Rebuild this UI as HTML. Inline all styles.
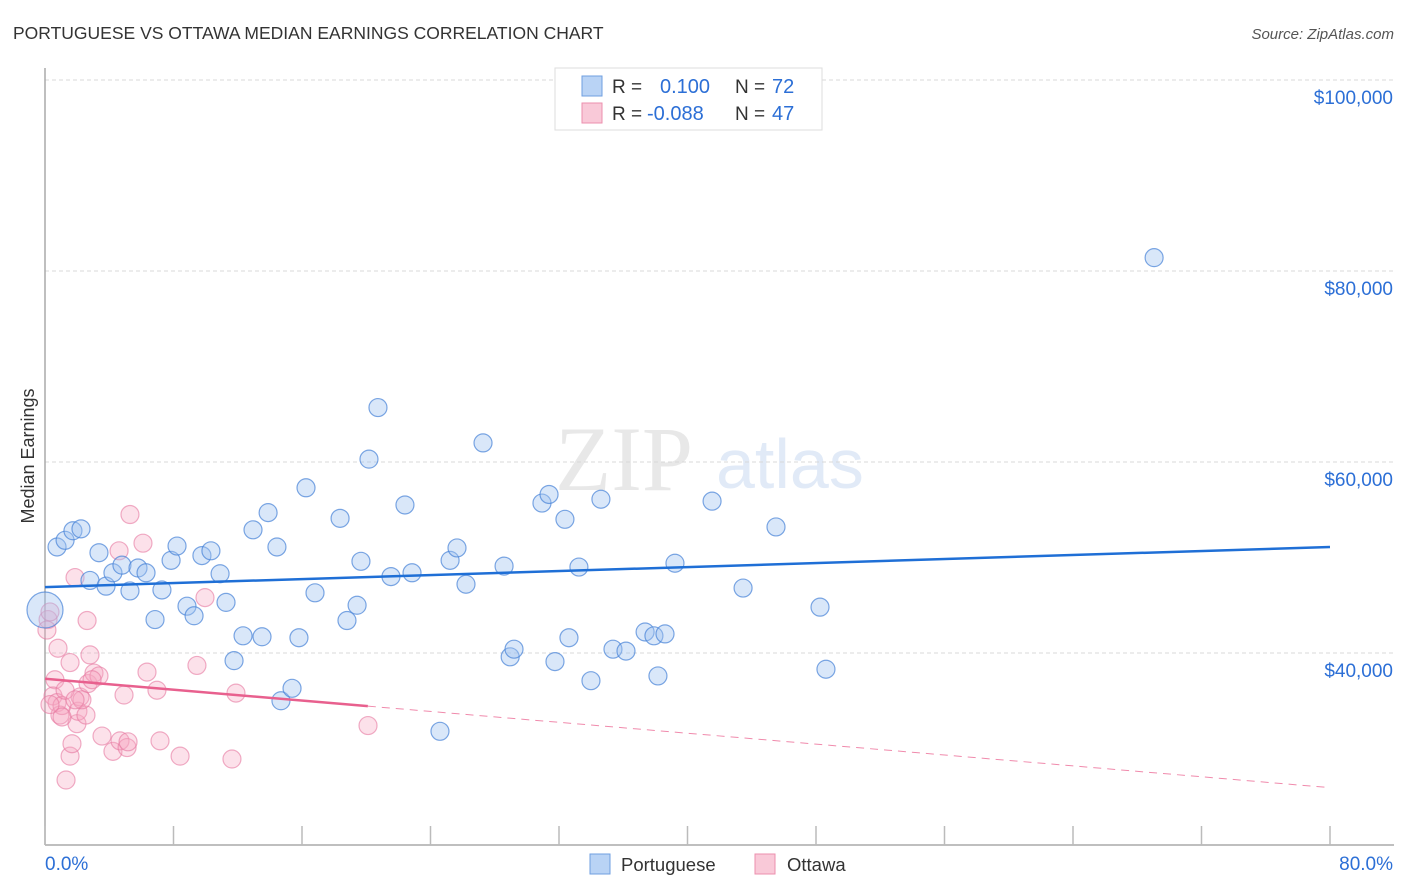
<!DOCTYPE html>
<html><head><meta charset="utf-8">
<style>
body{margin:0;background:#fff;font-family:"Liberation Sans",sans-serif;}
#wrap{position:relative;width:1406px;height:892px;overflow:hidden;}
</style></head>
<body>
<div id="wrap">
<svg id="chart" width="1406" height="892" xmlns="http://www.w3.org/2000/svg">
<text x="13" y="39" font-size="17.5" fill="#333">PORTUGUESE VS OTTAWA MEDIAN EARNINGS CORRELATION CHART</text>
<text x="1394" y="39" font-size="15" fill="#555" font-style="italic" text-anchor="end">Source: ZipAtlas.com</text>
<g opacity="0.22">
<text x="555" y="490" font-size="92" font-family="Liberation Serif,serif" fill="#999">ZIP</text>
<text x="716" y="488" font-size="70" fill="#7ba3dd">atlas</text>
</g>
<g id="grid"></g>
<g id="axes"></g>
<g id="pts"></g>
<g id="trends"></g>
<text transform="translate(34,456) rotate(-90)" font-size="18" fill="#333" text-anchor="middle">Median Earnings</text>
<g>
<rect x="555" y="68" width="267" height="62" fill="#fff" stroke="#ddd"/>
<rect x="582" y="76" width="20" height="20" fill="#b9d3f5" stroke="#6f9fe0"/>
<rect x="582" y="103" width="20" height="20" fill="#f9c9d8" stroke="#ec8fae"/>
<text x="612" y="93" font-size="19" fill="#333">R =</text>
<text x="660" y="93" font-size="20" fill="#2c6fd6">0.100</text>
<text x="735" y="93" font-size="19" fill="#333">N =</text>
<text x="772" y="93" font-size="20" fill="#2c6fd6">72</text>
<text x="612" y="120" font-size="19" fill="#333">R =</text>
<text x="647" y="120" font-size="20" fill="#2c6fd6">-0.088</text>
<text x="735" y="120" font-size="19" fill="#333">N =</text>
<text x="772" y="120" font-size="20" fill="#2c6fd6">47</text>
</g>
<g>
<rect x="590" y="854" width="20" height="20" fill="#b9d3f5" stroke="#6f9fe0"/>
<text x="621" y="871" font-size="18.5" fill="#333">Portuguese</text>
<rect x="755" y="854" width="20" height="20" fill="#f9c9d8" stroke="#ec8fae"/>
<text x="787" y="871" font-size="18.5" fill="#333">Ottawa</text>
</g>
</svg>
</div>
<script>
const yTicks=[40000,60000,80000,100000];
const yTickLabels=["$40,000","$60,000","$80,000","$100,000"];
const xTickCount=[0,8,16,24,32,40,48,56,64,72,80];
const xLabels=["0.0%","80.0%"];
const portX=[0,.75,1.25,1.74,2.24,2.8,3.36,3.8,4.23,4.79,5.29,5.79,6.29,6.85,7.28,7.85,8.22,8.84,9.28,9.77,10.33,10.9,11.27,11.77,12.33,12.95,13.51,13.89,14.44,14.69,15.38,15.81,16.25,16.81,18.37,18.8,19.43,19.67,20.17,20.73,21.54,22.41,22.85,24.59,25.22,25.65,26.21,27.27,28.58,28.96,29.2,30.94,31.38,31.75,32.37,32.62,33.24,33.99,34.61,35.36,36.17,37.36,37.91,38.16,38.6,39.22,41.53,43.46,45.51,48.25,48.62,69.05];
const portY=[44.5,51.1,51.8,52.8,53.0,47.6,50.5,47.0,48.4,49.2,46.5,48.9,48.4,43.5,46.6,49.7,51.2,44.9,43.9,50.2,50.7,48.3,45.3,39.2,41.8,52.9,41.7,54.7,51.1,35.0,36.3,41.6,57.3,46.3,54.1,43.4,45.0,49.6,60.3,65.7,48.0,55.5,48.4,31.8,49.7,51.0,47.2,62.0,49.1,39.6,40.4,55.7,56.6,39.1,54.0,41.6,49.0,37.1,56.1,40.4,40.2,42.2,41.8,37.6,42.0,49.4,55.9,46.8,53.2,44.8,38.3,81.4];
const ottX=[.19,.12,.31,.62,.5,.75,.93,1.06,1.31,1.56,1.56,1.87,1.99,2.05,2.18,2.55,2.62,2.68,2.8,3.05,3.36,3.55,4.23,4.61,4.67,4.92,5.11,5.17,5.29,6.1,6.35,6.97,7.16,8.41,9.46,9.96,11.64,11.89,20.11,2.3,1.25,.81,2.93,1.06,.31,1.87,1.68];
const ottY=[43.5,42.4,44.3,37.2,35.5,34.8,33.5,34.5,26.7,39.0,29.2,47.9,32.6,33.9,35.4,33.5,43.4,36.8,39.8,37.9,37.6,31.3,29.7,50.7,30.8,35.6,30.1,30.7,54.5,51.5,38.0,36.1,30.8,29.2,38.7,45.8,28.9,35.8,32.4,35.1,36.1,40.5,37.2,33.3,34.6,35.1,30.5];
const portTrend=[46.9,51.1];
const ottTrend=[37.3,25.9];
const ottSolidEnd=20.1;

const NS="http://www.w3.org/2000/svg";
const X0=45,X1=1330,Y100=80,Y80=271;
function xs(p){return X0+p*(X1-X0)/80;}
function ys(k){return Y100+(100-k)*(Y80-Y100)/20;}
function mk(tag,attrs,parent){const e=document.createElementNS(NS,tag);for(const k in attrs)e.setAttribute(k,attrs[k]);parent.appendChild(e);return e;}
const grid=document.getElementById('grid'),axes=document.getElementById('axes'),pts=document.getElementById('pts'),tr=document.getElementById('trends');
yTicks.forEach((v,i)=>{
 const y=ys(v/1000);
 const l=mk('line',{x1:45,x2:1394,y1:y,y2:y,stroke:'#d8d8d8','stroke-dasharray':'4,3'},grid);
 
 
 const t=mk('text',{x:1393,y:y+24,'font-size':19,fill:'#2c6fd6','text-anchor':'end'},axes);
 t.textContent=yTickLabels[i];
 
 
});
mk('line',{x1:45,x2:45,y1:68,y2:845,stroke:'#aaa','stroke-width':1.5},axes);
mk('line',{x1:45,x2:1394,y1:845,y2:845,stroke:'#aaa','stroke-width':1.5},axes);
xTickCount.forEach(p=>{
 const x=xs(p);
 const t=mk('line',{x1:x,x2:x,y1:826,y2:845,stroke:'#bbb','stroke-width':1.5},axes);
 
 
});
const xl0=mk('text',{x:45,y:870,'font-size':19,fill:'#2c6fd6'},axes);xl0.textContent=xLabels[0];


const xl1=mk('text',{x:1393,y:870,'font-size':19,fill:'#2c6fd6','text-anchor':'end'},axes);xl1.textContent=xLabels[1];


ottX.forEach((p,i)=>{
 const c=mk('circle',{cx:xs(p),cy:ys(ottY[i]),r:9,fill:'rgba(246,170,196,0.35)',stroke:'rgba(230,120,160,0.6)','stroke-width':1.2},pts);
 
 
});
portX.forEach((p,i)=>{
 const c=mk('circle',{cx:xs(p),cy:ys(portY[i]),r:i===0?18:9,fill:'rgba(160,196,240,0.4)',stroke:'rgba(70,130,215,0.7)','stroke-width':1.2},pts);
 
 
});
const bl=mk('line',{x1:xs(0),y1:ys(portTrend[0]),x2:xs(80),y2:ys(portTrend[1]),stroke:'#1f6fd6','stroke-width':2.5},tr);


const oy=p=>ottTrend[0]+(ottTrend[1]-ottTrend[0])*p/80;
const ol=mk('line',{x1:xs(0),y1:ys(oy(0)),x2:xs(ottSolidEnd),y2:ys(oy(ottSolidEnd)),stroke:'#e8608e','stroke-width':2.5},tr);


const od=mk('line',{x1:xs(ottSolidEnd),y1:ys(oy(ottSolidEnd)),x2:xs(80),y2:ys(oy(80)),stroke:'#f08aac','stroke-width':1,'stroke-dasharray':'8,6'},tr);


</script>
</body></html>
